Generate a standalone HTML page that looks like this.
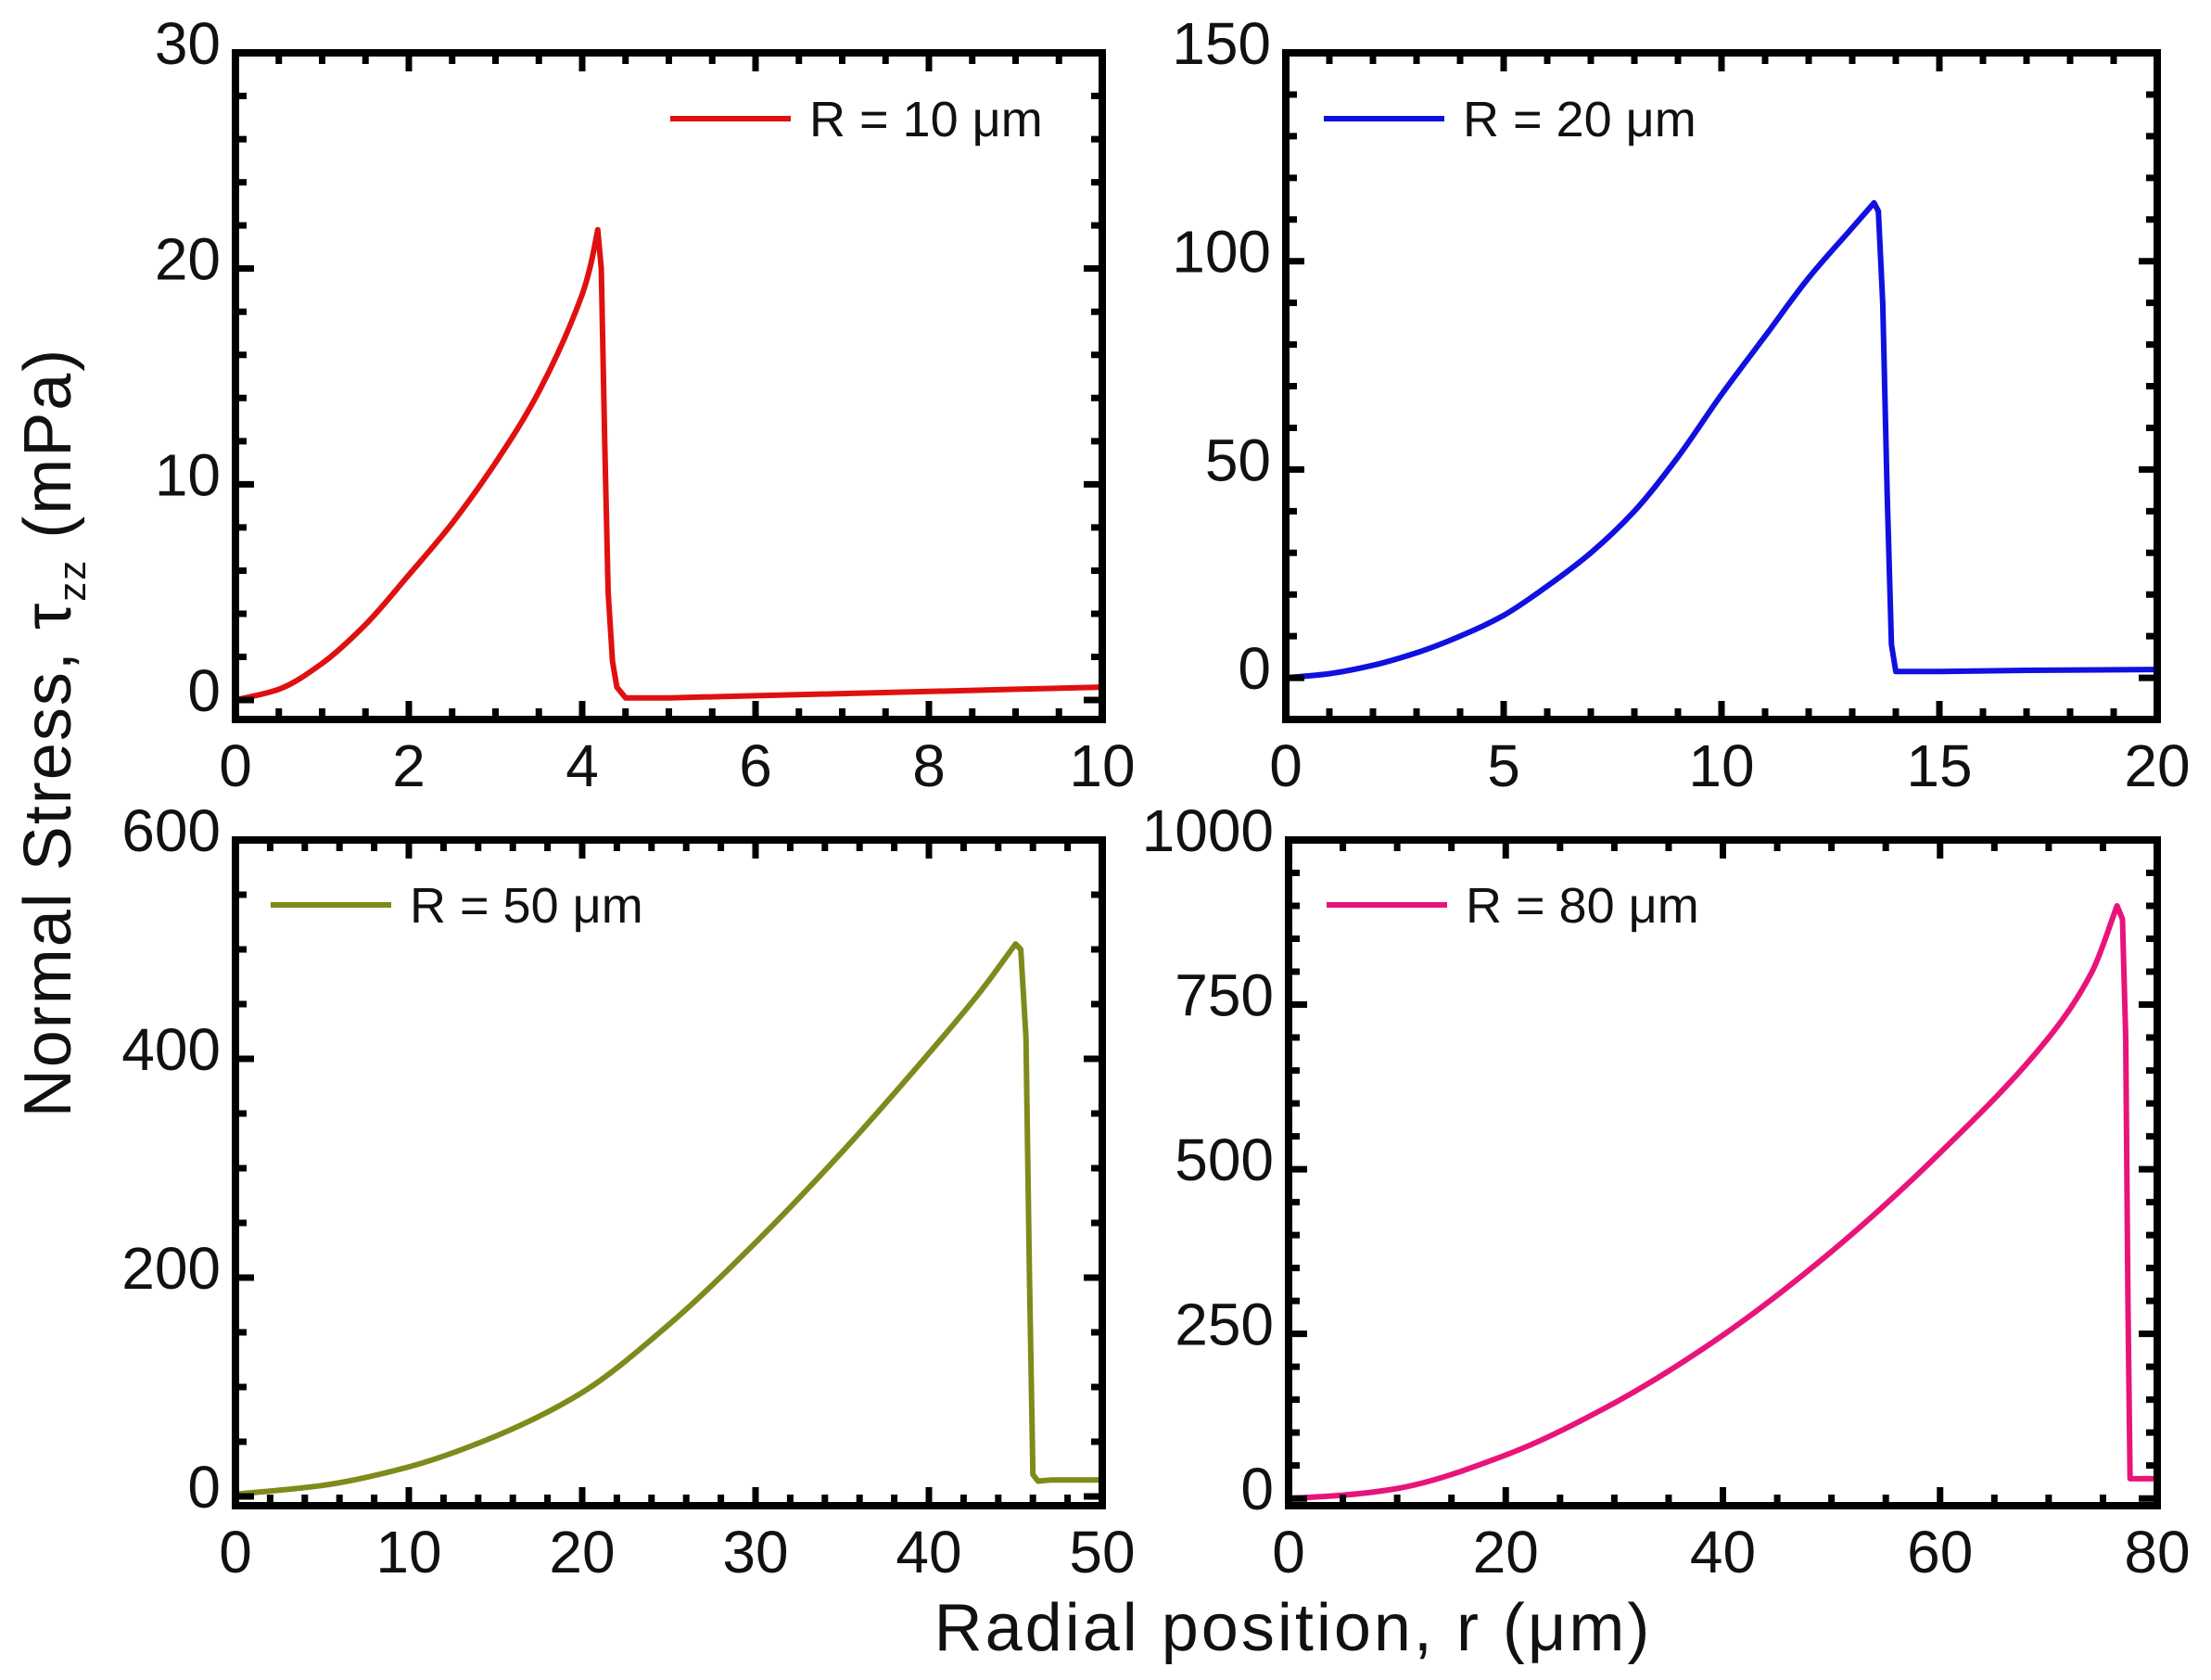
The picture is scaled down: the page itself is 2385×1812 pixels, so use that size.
<!DOCTYPE html>
<html><head><meta charset="utf-8"><style>
html,body{margin:0;padding:0;background:#fff}
svg{display:block}
text{font-family:"Liberation Sans","DejaVu Sans",sans-serif;fill:#111}
</style></head><body>
<svg id="chart" width="2385" height="1812" viewBox="0 0 2385 1812" xmlns="http://www.w3.org/2000/svg">
<text transform="translate(76,790) rotate(-90)" text-anchor="middle" font-size="72" letter-spacing="2">Normal Stress, τ<tspan font-size="42" dy="16">zz</tspan><tspan dy="-16"> (mPa)</tspan></text>
<text x="1395" y="1780" text-anchor="middle" font-size="72" letter-spacing="3">Radial position, r (μm)</text>
</svg>
<script>
// Panel 1: R = 10 um
const xs10 = [0,0.5,1,1.5,2,2.5,3,3.5,4,4.1,4.18,4.22,4.26,4.3,4.35,4.4,4.5,5,6,7,8,9,10];
const ys10 = [0,0.5,1.7,3.5,5.8,8.2,11,14.3,18.8,20.2,21.8,20,12,5,1.8,0.6,0.1,0.1,0.2,0.3,0.4,0.5,0.6];
// Panel 2: R = 20 um
const xs20 = [0,1,2,3,4,5,6,7,8,9,10,11,12,13,13.5,13.6,13.7,13.8,13.9,14,15,17,20];
const ys20 = [0,1,3,6,10,15,22,30,40,53,68,82,96,108,114,112,90,45,8,1.5,1.5,1.8,2];
// Panel 3: R = 50 um
const xs50 = [0,5,10,15,20,25,30,35,40,43,45,45.3,45.6,45.8,46,46.3,47,50];
const ys50 = [2,10,27,55,95,157,232,315,405,462,505,500,420,200,20,14,15,15];
// Panel 4: R = 80 um
const xs80 = [0,5,10,20,30,40,50,60,70,74,76.3,76.8,77.1,77.3,77.5,77.8,80];
const ys80 = [0,5,15,66,145,248,375,525,700,800,900,880,700,300,30,30,30];

const panels = [
 {id:'r10', xs:xs10, ys:ys10, color:'#e01010', x0:254,x1:1189,y0:57,y1:776, xmin:0,xmax:10,ymin:-0.9,ymax:30,
  xt:[0,2,4,6,8,10], xminor:0.5, yt:[0,10,20,30], yminor:2, legend:'R = 10 μm', lx:723, ly:128},
 {id:'r20', xs:xs20, ys:ys20, color:'#1010e0', x0:1387,x1:2327,y0:57,y1:776, xmin:0,xmax:20,ymin:-10,ymax:150,
  xt:[0,5,10,15,20], xminor:1, yt:[0,50,100,150], yminor:10, legend:'R = 20 μm', lx:1428, ly:128},
 {id:'r50', xs:xs50, ys:ys50, color:'#7f8a1c', x0:254,x1:1189,y0:906,y1:1624, xmin:0,xmax:50,ymin:-8.5,ymax:600,
  xt:[0,10,20,30,40,50], xminor:2, yt:[0,200,400,600], yminor:50, legend:'R = 50 μm', lx:292, ly:976},
 {id:'r80', xs:xs80, ys:ys80, color:'#e8147a', x0:1390,x1:2327,y0:906,y1:1624, xmin:0,xmax:80,ymin:-11,ymax:1000,
  xt:[0,20,40,60,80], xminor:5, yt:[0,250,500,750,1000], yminor:50, legend:'R = 80 μm', lx:1431, ly:976}
];
const NS='http://www.w3.org/2000/svg';
const svg=document.getElementById('chart');
function mk(tag,attrs,parent){const e=document.createElementNS(NS,tag);for(const k in attrs)e.setAttribute(k,attrs[k]);(parent||svg).appendChild(e);return e;}
// smooth rising part (monotone cubic, end slope free), straight segments after the peak
function curvePath(P){
  let k=0;for(let i=1;i<P.length;i++){if(P[i][1]<P[k][1])k=i;}
  const R=P.slice(0,k+1);const n=R.length;const d=[],m=[];
  for(let i=0;i<n-1;i++){d.push((R[i+1][1]-R[i][1])/(R[i+1][0]-R[i][0]));}
  m[0]=d[0];m[n-1]=d[n-2];
  for(let i=1;i<n-1;i++){ m[i]=(d[i-1]*d[i]<=0)?0:2/(1/d[i-1]+1/d[i]); }
  let s='M'+R[0][0].toFixed(1)+','+R[0][1].toFixed(1);
  for(let i=0;i<n-1;i++){const h=R[i+1][0]-R[i][0];
    s+=`C${(R[i][0]+h/3).toFixed(1)},${(R[i][1]+m[i]*h/3).toFixed(1)} ${(R[i+1][0]-h/3).toFixed(1)},${(R[i+1][1]-m[i+1]*h/3).toFixed(1)} ${R[i+1][0].toFixed(1)},${R[i+1][1].toFixed(1)}`;}
  for(let i=k+1;i<P.length;i++){s+=`L${P[i][0].toFixed(1)},${P[i][1].toFixed(1)}`;}
  return s;
}
panels.forEach(p=>{
  const sx=v=>p.x0+(v-p.xmin)/(p.xmax-p.xmin)*(p.x1-p.x0);
  const sy=v=>p.y1-(v-p.ymin)/(p.ymax-p.ymin)*(p.y1-p.y0);
  const g=mk('g',{});
  
  
  const pts=p.xs.map((x,i)=>[sx(x),sy(p.ys[i])]);
  const path=mk('path',{d:curvePath(pts),fill:'none',stroke:p.color,'stroke-width':6,'stroke-linejoin':'round'},g);
  
  
  let tk='';
  const nx=Math.round((p.xmax-p.xmin)/p.xminor);
  for(let i=0;i<=nx;i++){const v=p.xmin+i*p.xminor;const X=sx(v);const major=p.xt.some(t=>Math.abs(t-v)<1e-6);const L=major?20:12;
    tk+=`M${X},${p.y1}v${-L}M${X},${p.y0}v${L}`;}
  const start=Math.ceil(p.ymin/p.yminor)*p.yminor;
  for(let v=start;v<=p.ymax+1e-6;v+=p.yminor){const Y=sy(v);const major=p.yt.some(t=>Math.abs(t-v)<1e-6);const L=major?20:12;
    tk+=`M${p.x0},${Y}h${L}M${p.x1},${Y}h${-L}`;}
  const ticks=mk('path',{d:tk,stroke:'#000','stroke-width':7,fill:'none'},g);
  
  
  const frame=mk('rect',{x:p.x0,y:p.y0,width:p.x1-p.x0,height:p.y1-p.y0,fill:'none',stroke:'#000','stroke-width':8},g);
  
  
  p.xt.forEach(v=>{const t=mk('text',{x:sx(v),y:p.y1+72,'text-anchor':'middle','font-size':64},g);t.textContent=String(v);
    
    });
  p.yt.forEach(v=>{const t=mk('text',{x:p.x0-16,y:sy(v)+12,'text-anchor':'end','font-size':64},g);t.textContent=String(v);
    
    });
  const ll=mk('line',{x1:p.lx,y1:p.ly,x2:p.lx+130,y2:p.ly,stroke:p.color,'stroke-width':6},g);
  
  
  const lt=mk('text',{x:p.lx+150,y:p.ly+19,'font-size':54},g);lt.textContent=p.legend;
  
  
});
</script>
</body></html>
